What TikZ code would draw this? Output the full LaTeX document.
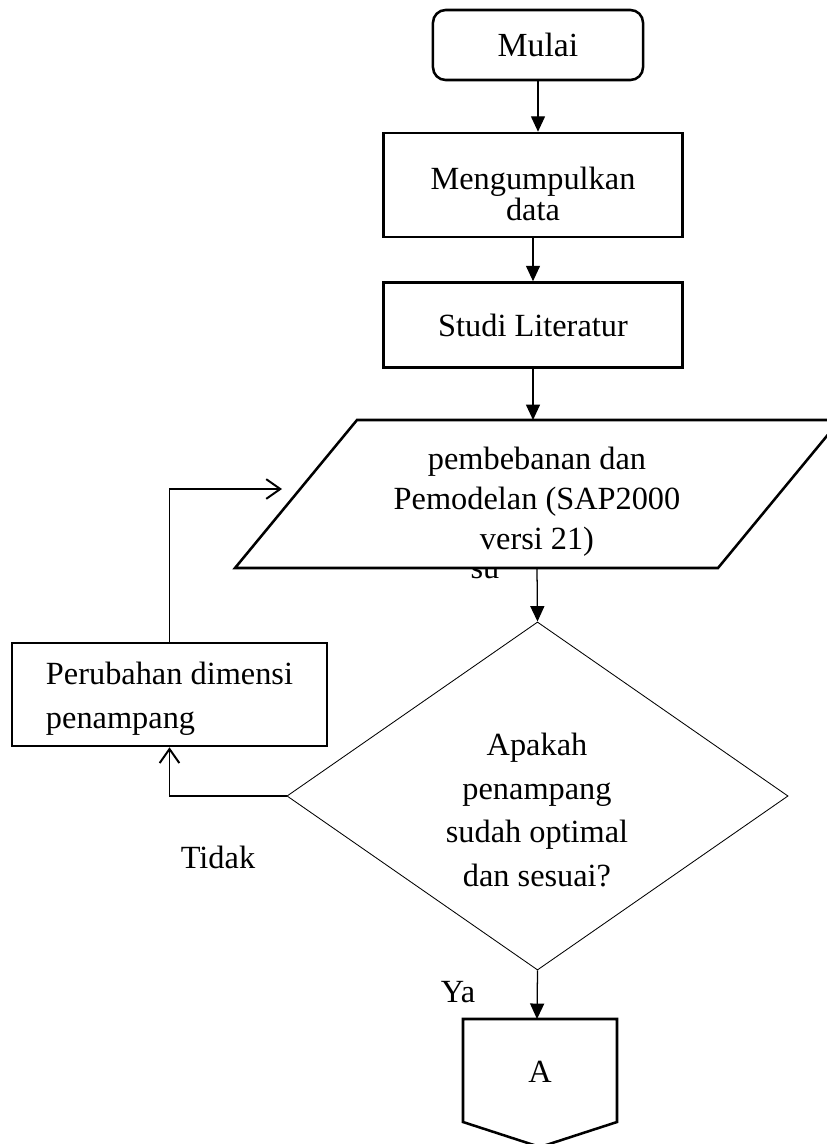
\documentclass[tikz,border=0pt]{standalone}
\usepackage{fontspec}
\setmainfont{Liberation Serif}
\usetikzlibrary{shapes.geometric,arrows.meta}
\tikzset{
    kotak/.style={draw, line width=1.8pt, align=center, inner sep=0pt},
    panah/.style={line width=0.9pt, -{Triangle[length=11pt,width=10pt]}},
    balik/.style={line width=1.4pt, -{Straight Barb[length=10pt,width=14pt]}},
}
\begin{document}
\begin{tikzpicture}[x=0.025cm, y=-0.025cm, font=\fontsize{23}{28}\selectfont]
    \useasboundingbox (0,0) rectangle (827,1144);
    \clip (0,0) rectangle (827,1144);
    \node[kotak, rounded corners=9pt, minimum width=5.25cm, minimum height=1.75cm, font=\fontsize{24}{28}\selectfont] (mulai) at (538,45) {Mulai};
    \node[kotak, minimum width=7.475cm, minimum height=2.6cm] (data) at (533,185) {};
    \node[align=center, font=\fontsize{23}{22}\selectfont] (datatxt) at (533,194) {Mengumpulkan\\data};
    \node[kotak, minimum width=7.475cm, minimum height=2.125cm] (studi) at (533,325) {Studi Literatur};
    \node[anchor=base] (su) at (485,578) {su};
    \draw[line width=1.8pt, fill=white] (235,568) -- (357,420) -- (840,420) -- (718,568) -- cycle;
    \node[align=center, font=\fontsize{23}{28.5}\selectfont] (model) at (537,502) {pembebanan dan\\Pemodelan (SAP2000\\versi 21)};
    \coordinate (mtop) at (533,420);
    \coordinate (mbot) at (537,568);
    \node[draw, diamond, line width=0.6pt, inner sep=0pt, minimum width=12.525cm, minimum height=8.7cm] (cek) at (537.5,796) {};
    \node[align=center, font=\fontsize{23}{31}\selectfont] (tanya) at (537,810) {Apakah\\penampang\\sudah optimal\\dan sesuai?};
    \node[kotak, minimum width=7.875cm, minimum height=2.575cm] (ubah) at (169.5,694.5) {};
    \node[align=left, font=\fontsize{23}{31}\selectfont] (ubahtxt) at (169.5,699) {Perubahan dimensi\\penampang};
    \coordinate (masuk) at (282,489);
    \draw[line width=1.8pt] (463,1019) -- (617,1019) -- (617,1122) -- (540,1147) -- (463,1122) -- cycle;
    \node (a) at (540,1072) {A};
    \coordinate (atop) at (537,1019);
    \node (ya) at (458,992) {Ya};
    \node (tidak) at (218,857) {Tidak};
    \draw[panah] (mulai.south) -- (mulai.south |- data.north);
    \draw[panah] (data.south) -- (studi.north);
    \draw[panah] (studi.south) -- (mtop);
    \draw[panah] (mbot) -- (cek.north);
    \draw[panah] (cek.south) -- (atop);
    \draw[balik] (cek.west) -| (ubah.south);
    \draw[balik] (ubah.north) |- (masuk);
\end{tikzpicture}
\end{document}
